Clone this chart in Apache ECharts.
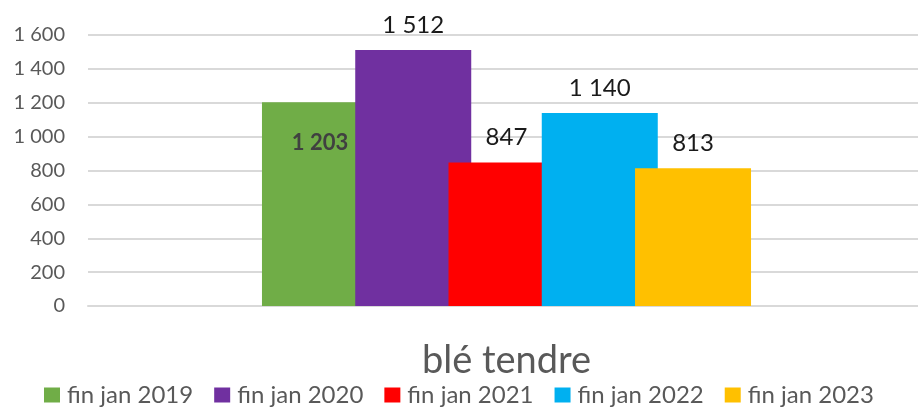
<!DOCTYPE html>
<html>
<head>
<meta charset="utf-8">
<script src="https://cdn.jsdelivr.net/npm/echarts@6/dist/echarts.min.js"></script>
<style>
  html, body { margin: 0; padding: 0; background: #fff; }
  #chart { width: 918px; height: 408px; }
</style>
</head>
<body>
<div id="chart"></div>
<script>
const categories = ['blé tendre'];
const seriesNames = ['fin jan 2019', 'fin jan 2020', 'fin jan 2021', 'fin jan 2022', 'fin jan 2023'];
const values2019 = [1203];
const values2020 = [1512];
const values2021 = [847];
const values2022 = [1140];
const values2023 = [813];
const yTicks = [0, 200, 400, 600, 800, 1000, 1200, 1400, 1600];

const palette = ['#70AD47', '#7030A0', '#FF0000', '#00B0F0', '#FFC000'];
const seriesValues = [values2019, values2020, values2021, values2022, values2023];
const FONT = 'Lato';

function fmt(v) {
  return String(v).replace(/\B(?=(\d{3})+(?!\d))/g, ' ');
}

const chart = echarts.init(document.getElementById('chart'), null, { renderer: 'canvas' });

const series = seriesNames.map((name, i) => {
  const inside = i === 0;
  return {
    name: name,
    type: 'bar',
    data: seriesValues[i],
    barWidth: 116,
    barGap: '-19.6%',
    itemStyle: { color: palette[i] },
    label: {
      show: true,
      position: inside ? 'insideTop' : 'top',
      distance: inside ? 30 : 13,
      formatter: p => fmt(p.value),
      fontFamily: FONT,
      fontSize: inside ? 22 : 24,
      fontWeight: inside ? 'bold' : 'normal',
      color: inside ? '#404040' : '#1a1a1a'
    }
  };
});

chart.setOption({
  animation: false,
  color: palette,
  textStyle: { fontFamily: FONT },
  grid: { left: 88, width: 837, top: 35, bottom: 102, containLabel: false, outerBoundsMode: 'none' },
  xAxis: {
    type: 'category',
    data: categories,
    axisTick: { show: false },
    axisLine: { show: true, lineStyle: { color: '#d9d9d9', width: 2 } },
    axisLabel: {
      fontFamily: FONT,
      fontSize: 38,
      color: '#595959',
      margin: 36
    }
  },
  yAxis: {
    type: 'value',
    min: yTicks[0],
    max: yTicks[yTicks.length - 1],
    interval: yTicks[1] - yTicks[0],
    axisLine: { show: false },
    axisTick: { show: false },
    splitLine: { lineStyle: { color: '#d9d9d9', width: 2 } },
    axisLabel: {
      fontFamily: FONT,
      fontSize: 20,
      color: '#595959',
      margin: 23,
      formatter: v => fmt(v)
    }
  },
  legend: {
    show: true,
    data: seriesNames,
    left: 39,
    top: 378,
    itemWidth: 16,
    itemHeight: 15,
    itemGap: 21,
    icon: 'rect',
    textStyle: { fontFamily: FONT, fontSize: 24, color: '#595959', padding: [0, 0, 0, 2] }
  },
  series: series
});
</script>
</body>
</html>
